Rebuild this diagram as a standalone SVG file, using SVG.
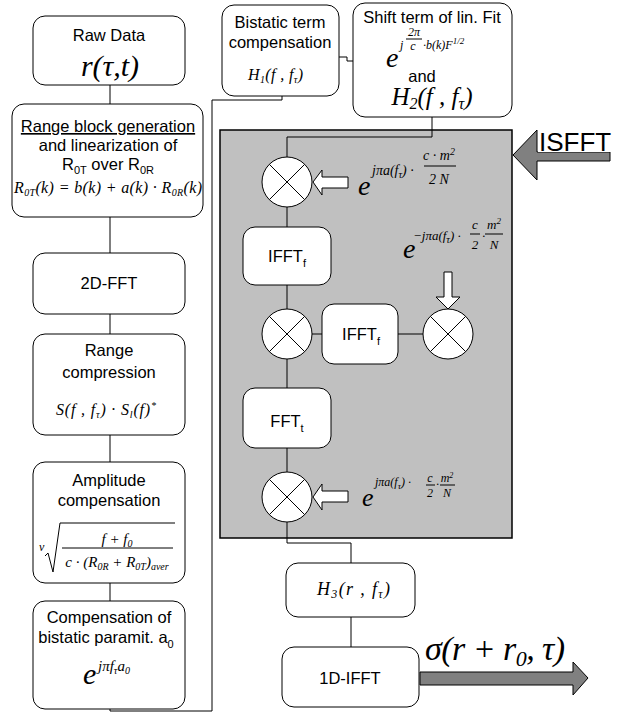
<svg xmlns="http://www.w3.org/2000/svg" width="627" height="713" viewBox="0 0 627 713">
<style>
.box{fill:#fff;stroke:#000;stroke-width:1}
.t{font-family:"Liberation Sans",Arial,sans-serif;font-size:16.5px;fill:#000;text-anchor:middle}
.m{font-family:"Liberation Serif","Times New Roman",serif;font-style:italic;fill:#000}
.c{fill:none;stroke:#000;stroke-width:1}
.mul{fill:#fff;stroke:#000;stroke-width:1}
.x{stroke:#000;stroke-width:1}
.warr{fill:#fff;stroke:#000;stroke-width:1}
.garr{fill:#808080;stroke:#000;stroke-width:1}
</style>
<rect width="627" height="713" fill="#fff"/>

<g id="isfft-block">
<rect x="220" y="130" width="292" height="408" fill="#c0c0c0" stroke="#000" stroke-width="1.5"/>
</g>

<g id="connectors">
<path class="c" d="M110,85 V104"/>
<path class="c" d="M110,217 V253"/>
<path class="c" d="M110,314 V334"/>
<path class="c" d="M110,435 V462"/>
<path class="c" d="M110,583 V601"/>
<path class="c" d="M110,709 V711 H212 V100 H282 V96"/>
<path class="c" d="M339,57 H347 V61 H353"/>
<path class="c" d="M432,117 V137 H287 V157"/>
<path class="c" d="M287,207 V227"/>
<path class="c" d="M287,285 V309"/>
<path class="c" d="M312,334 H322"/>
<path class="c" d="M398,334 H423"/>
<path class="c" d="M287,359 V388"/>
<path class="c" d="M287,448 V472"/>
<path class="c" d="M287,522 V543 H351 V563"/>
<path class="c" d="M351,617 V647"/>
</g>

<g id="raw-data">
<rect class="box" x="33" y="16" width="152" height="69" rx="12"/>
<text class="t" x="109" y="41">Raw Data</text>
<text class="m" x="110" y="76" font-size="30" text-anchor="middle">r(τ,t)</text>
</g>

<g id="range-block">
<rect class="box" x="12" y="104" width="191" height="113" rx="12"/>
<text class="t" x="108" y="132" text-decoration="underline">Range block generation</text>
<text class="t" x="108" y="151">and linearization of</text>
<text class="t" x="108" y="170">R<tspan dy="4" font-size="11">0T</tspan><tspan dy="-4"> over R</tspan><tspan dy="4" font-size="11">0R</tspan></text>
<text class="m" x="14" y="193" font-size="16" textLength="188" lengthAdjust="spacing">R<tspan dy="3" font-size="10">0T</tspan><tspan dy="-3">(k) = b(k) + a(k) · R</tspan><tspan dy="3" font-size="10">0R</tspan><tspan dy="-3">(k)</tspan></text>
</g>

<g id="fft2d">
<rect class="box" x="33" y="253" width="152" height="61" rx="12"/>
<text class="t" x="109" y="289">2D-FFT</text>
</g>

<g id="range-compression">
<rect class="box" x="33" y="334" width="152" height="101" rx="12"/>
<text class="t" x="109" y="356">Range</text>
<text class="t" x="109" y="378">compression</text>
<text class="m" x="56" y="415" font-size="16" textLength="100" lengthAdjust="spacing">S(f , f<tspan dy="3" font-size="10">τ</tspan><tspan dy="-3">) · S</tspan><tspan dy="3" font-size="10">l</tspan><tspan dy="-3">(f)</tspan><tspan dy="-6" font-size="10">*</tspan></text>
</g>

<g id="amplitude-compensation">
<rect class="box" x="33" y="462" width="152" height="121" rx="12"/>
<text class="t" x="109" y="486">Amplitude</text>
<text class="t" x="109" y="506">compensation</text>
<text class="m" x="39" y="551" font-size="12">v</text>
<path class="c" d="M45,556 L48,553 L53,572 L60,523 H175"/>
<text class="m" x="117" y="544" font-size="15" text-anchor="middle">f + f<tspan dy="3" font-size="10">0</tspan></text>
<line class="x" x1="62" y1="548" x2="173" y2="548"/>
<text class="m" x="117" y="567" font-size="15" text-anchor="middle">c · (R<tspan dy="3" font-size="10">0R</tspan><tspan dy="-3"> + R</tspan><tspan dy="3" font-size="10">0T</tspan><tspan dy="-3">)</tspan><tspan dy="3" font-size="10">aver</tspan></text>
</g>

<g id="bistatic-param">
<rect class="box" x="33" y="601" width="152" height="108" rx="12"/>
<text class="t" x="109" y="623">Compensation of</text>
<text class="t" x="106" y="643">bistatic paramit. a<tspan dy="5" font-size="11">0</tspan></text>
<text class="m" x="83" y="684" font-size="30">e</text>
<text class="m" x="98" y="671" font-size="15">jπf<tspan dy="3" font-size="10">τ</tspan><tspan dy="-3">a</tspan><tspan dy="3" font-size="10">0</tspan></text>
</g>

<g id="bistatic-term">
<rect class="box" x="222" y="5" width="117" height="91" rx="12"/>
<text class="t" x="280" y="28">Bistatic term</text>
<text class="t" x="280" y="48">compensation</text>
<text class="m" x="248" y="80" font-size="16" textLength="55" lengthAdjust="spacing">H<tspan dy="3" font-size="10">1</tspan><tspan dy="-3">(f , f</tspan><tspan dy="3" font-size="10">τ</tspan><tspan dy="-3">)</tspan></text>
</g>

<g id="shift-term">
<rect class="box" x="353" y="3" width="159" height="114" rx="12"/>
<text class="t" x="432" y="23">Shift term of lin. Fit</text>
<text class="m" x="386" y="67" font-size="28">e</text>
<text class="m" x="400" y="49" font-size="12">j</text>
<text class="m" x="414" y="36" font-size="12" text-anchor="middle">2π</text>
<line class="x" x1="406" y1="39" x2="422" y2="39"/>
<text class="m" x="413" y="50" font-size="12" text-anchor="middle">c</text>
<text class="m" x="423" y="49" font-size="12">·b(k)F<tspan dy="-5" font-size="9">1/2</tspan></text>
<text class="t" x="422" y="82">and</text>
<text class="m" x="432" y="105" font-size="25" text-anchor="middle">H<tspan dy="4" font-size="16">2</tspan><tspan dy="-4">(f , f</tspan><tspan dy="4" font-size="16">τ</tspan><tspan dy="-4">)</tspan></text>
</g>

<g id="mult1">
<circle class="mul" cx="287" cy="182" r="25"/>
<path class="x" d="M269.3,164.3 L304.7,199.7 M304.7,164.3 L269.3,199.7"/>
<polygon class="warr" points="313,182 322,170 322,177 348,177 348,188 322,188 322,195"/>
<text class="m" x="358" y="195" font-size="28">e</text>
<text class="m" x="372" y="175" font-size="14">jπa(f<tspan dy="3" font-size="10">τ</tspan><tspan dy="-3">) ·</tspan></text>
<text class="m" x="439" y="160" font-size="14" text-anchor="middle">c · m<tspan dy="-5" font-size="10">2</tspan></text>
<line class="x" x1="424" y1="166" x2="456" y2="166"/>
<text class="m" x="439" y="184" font-size="14" text-anchor="middle">2  N</text>
</g>

<g id="ifft-f1">
<rect class="box" x="243" y="227" width="88" height="58" rx="12"/>
<text class="t" x="287" y="262">IFFT<tspan dy="5" font-size="11">f</tspan></text>
</g>

<g id="mult2">
<circle class="mul" cx="287" cy="334" r="25"/>
<path class="x" d="M269.3,316.3 L304.7,351.7 M304.7,316.3 L269.3,351.7"/>
</g>

<g id="ifft-f2">
<rect class="box" x="322" y="304" width="76" height="60" rx="12"/>
<text class="t" x="361" y="340">IFFT<tspan dy="5" font-size="11">f</tspan></text>
</g>

<g id="mult3">
<circle class="mul" cx="448" cy="334" r="25"/>
<path class="x" d="M430.3,316.3 L465.7,351.7 M465.7,316.3 L430.3,351.7"/>
<polygon class="warr" points="444,272 452,272 452,297 460,297 448,309 436,297 444,297"/>
<text class="m" x="403" y="258" font-size="28">e</text>
<text class="m" x="413" y="240" font-size="13">−jπa(f<tspan dy="3" font-size="10">τ</tspan><tspan dy="-3">) ·</tspan></text>
<text class="m" x="475" y="229" font-size="13" text-anchor="middle">c</text>
<line class="x" x1="470" y1="234" x2="480" y2="234"/>
<text class="m" x="475" y="249" font-size="13" text-anchor="middle">2</text>
<text class="m" x="482" y="240" font-size="13">·</text>
<text class="m" x="494" y="229" font-size="13" text-anchor="middle">m<tspan dy="-5" font-size="9">2</tspan></text>
<line class="x" x1="485" y1="234" x2="503" y2="234"/>
<text class="m" x="494" y="249" font-size="13" text-anchor="middle">N</text>
</g>

<g id="fft-t">
<rect class="box" x="243" y="388" width="88" height="60" rx="12"/>
<text class="t" x="287" y="427">FFT<tspan dy="5" font-size="11">t</tspan></text>
</g>

<g id="mult4">
<circle class="mul" cx="287" cy="497" r="25"/>
<path class="x" d="M269.3,479.3 L304.7,514.7 M304.7,479.3 L269.3,514.7"/>
<polygon class="warr" points="313,497 322,484 322,491 348,491 348,502 322,502 322,510"/>
<text class="m" x="362" y="506" font-size="26">e</text>
<text class="m" x="375" y="486" font-size="12">jπa(f<tspan dy="3" font-size="9">τ</tspan><tspan dy="-3">) ·</tspan></text>
<text class="m" x="430" y="482" font-size="12" text-anchor="middle">c</text>
<line class="x" x1="426" y1="485" x2="435" y2="485"/>
<text class="m" x="430" y="497" font-size="12" text-anchor="middle">2</text>
<text class="m" x="436" y="488" font-size="12">·</text>
<text class="m" x="447" y="482" font-size="12" text-anchor="middle">m<tspan dy="-4" font-size="8">2</tspan></text>
<line class="x" x1="440" y1="485" x2="455" y2="485"/>
<text class="m" x="447" y="497" font-size="12" text-anchor="middle">N</text>
</g>

<g id="isfft-label">
<polygon class="garr" points="513,155 537,130 537,152 610,152 610,161 537,161 537,180"/>
<rect x="538" y="128" width="72" height="24" fill="#fff"/>
<text x="539" y="151" font-family="'Liberation Sans',Arial,sans-serif" font-size="26">ISFFT</text>
</g>

<g id="h3">
<rect class="box" x="286" y="563" width="129" height="54" rx="12"/>
<text class="m" x="317" y="595" font-size="18" textLength="73" lengthAdjust="spacing">H<tspan dy="3" font-size="12">3</tspan><tspan dy="-3">(r , f</tspan><tspan dy="3" font-size="12">τ</tspan><tspan dy="-3">)</tspan></text>
</g>

<g id="ifft-1d">
<rect class="box" x="282" y="647" width="137" height="60" rx="12"/>
<text class="t" x="350" y="684">1D-IFFT</text>
</g>

<g id="output">
<polygon class="garr" points="420,672 573,672 573,662 588,678 573,695 573,685 420,685"/>
<text class="m" x="425" y="660" font-size="34" textLength="140" lengthAdjust="spacing">σ(r + r<tspan dy="6" font-size="22">0</tspan><tspan dy="-6">, τ)</tspan></text>
</g>
</svg>
